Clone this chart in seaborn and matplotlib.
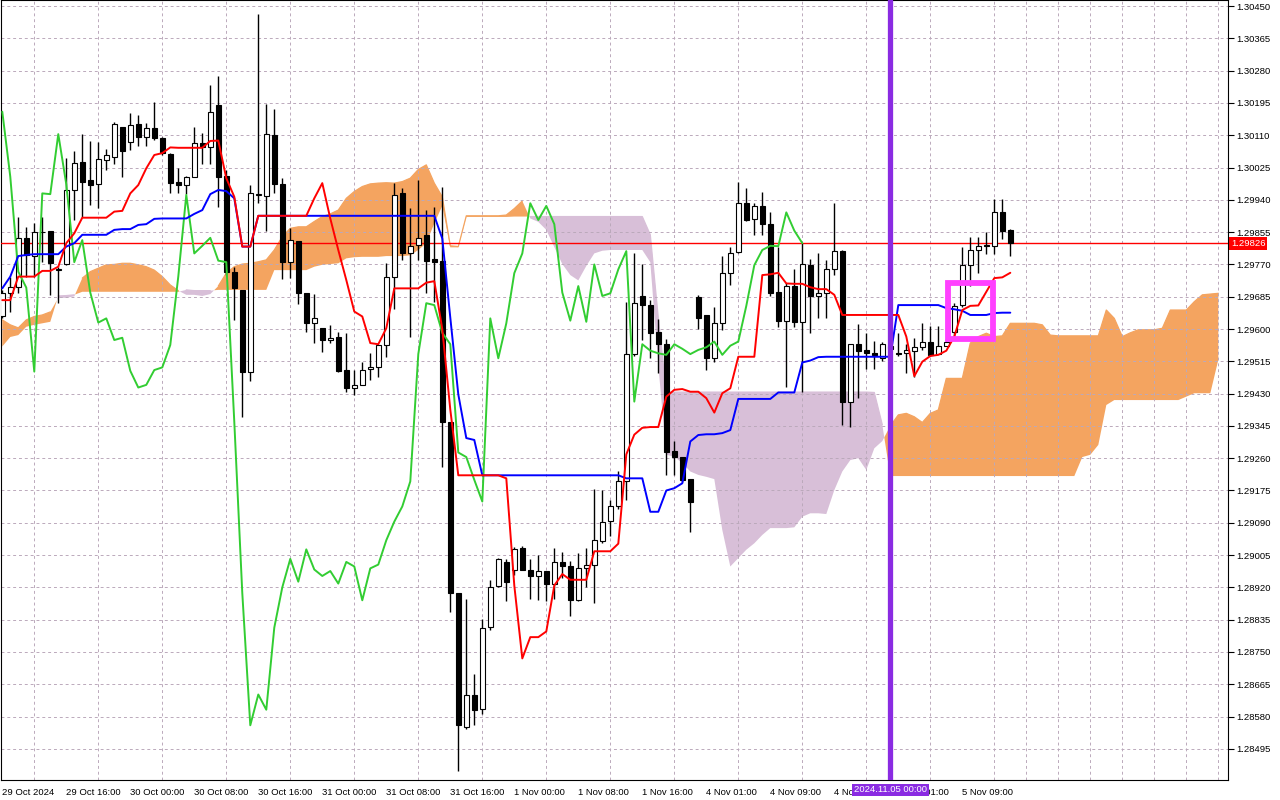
import numpy as np
import pandas as pd
import matplotlib
matplotlib.use("Agg")
import matplotlib.pyplot as plt
import matplotlib.transforms as mtransforms
from matplotlib.patches import Rectangle
import seaborn as sns

# GBPUSD H1 with Ichimoku, prices kept in points (1 point = 0.00001)
POINT = 0.00001

open_pts = [129633, 129694, 129710, 129839, 129792, 129856, 129858, 129755, 129771, 129966,
            130039, 129992, 129981, 130045, 130054, 130131, 130092, 130140, 130105, 130128,
            130102, 130060, 129986, 129979, 130001, 130089, 130080, 130190, 130004, 129751,
            129703, 129488, 129953, 129951, 130111, 129982, 129776, 129832, 129694, 129615,
            129602, 129571, 129578, 129492, 129446, 129453, 129494, 129499, 129558, 129738,
            129957, 129799, 129821, 129848, 129785, 129779, 129356, 128905, 128552, 128636,
            128599, 128816, 128923, 128987, 128965, 129023, 128967, 128950, 128963, 128930,
            128987, 128975, 128886, 128970, 128980, 129041, 129094, 129134, 129199, 129534,
            129687, 129663, 129591, 129561, 129279, 129263, 129205, 129685, 129637, 129523,
            129615, 129747, 129802, 129931, 129889, 129924, 129877, 129697, 129622, 129713,
            129619, 129768, 129688, 129696, 129757, 129805, 129409, 129561, 129545, 129538,
            129525, 129555, 129536, 129536, 129543, 129552, 129567, 129534, 129556, 129593,
            129663, 129768, 129808, 129820, 129819, 129907, 129861]
high_pts = [129703, 129738, 129896, 129869, 129878, 129896, 129858, 129764, 130049, 130069,
            130113, 130095, 130091, 130074, 130146, 130133, 130168, 130163, 130143, 130197,
            130106, 130063, 130023, 130003, 130131, 130115, 130242, 130266, 130019, 129764,
            129703, 129979, 130429, 130192, 130179, 129997, 129865, 129832, 129694, 129692,
            129602, 129611, 129593, 129589, 129492, 129514, 129538, 129558, 129773, 129985,
            129970, 129918, 129992, 129913, 129922, 129975, 129356, 128905, 128890, 128693,
            128836, 128940, 128997, 128995, 129026, 129028, 128995, 129005, 128963, 129023,
            129013, 128990, 129010, 129023, 129179, 129175, 129151, 129227, 129670, 129801,
            129771, 129676, 129626, 129573, 129304, 129264, 129205, 129690, 129637, 129659,
            129792, 129817, 129986, 129970, 129931, 129960, 129909, 129817, 129720, 129757,
            129827, 129784, 129799, 129782, 129933, 129808, 129560, 129613, 129589, 129569,
            129567, 129565, 129589, 129561, 129576, 129615, 129609, 129609, 129574, 129669,
            129817, 129842, 129842, 129856, 129942, 129942, 129863]
low_pts = [129629, 129646, 129694, 129738, 129738, 129777, 129690, 129668, 129769, 129887,
           129896, 129927, 129919, 130019, 130034, 130001, 130071, 130083, 130082, 130098,
           130058, 129959, 129957, 129955, 129999, 130034, 130034, 129922, 129742, 129624,
           129368, 129462, 129931, 129859, 129957, 129732, 129735, 129666, 129593, 129564,
           129540, 129563, 129488, 129435, 129427, 129453, 129466, 129475, 129527, 129652,
           129782, 129580, 129782, 129694, 129670, 129237, 128854, 128437, 128547, 128557,
           128587, 128809, 128920, 128884, 128953, 128965, 128890, 128886, 128884, 128890,
           128945, 128844, 128884, 128920, 128879, 129038, 129056, 129126, 129151, 129529,
           129571, 129523, 129484, 129216, 129216, 129198, 129067, 129599, 129492, 129512,
           129598, 129716, 129799, 129885, 129848, 129848, 129687, 129606, 129448, 129605,
           129433, 129589, 129628, 129628, 129742, 129348, 129342, 129418, 129494, 129494,
           129515, 129535, 129530, 129485, 129475, 129545, 129529, 129534, 129554, 129580,
           129659, 129712, 129748, 129798, 129798, 129836, 129793]
close_pts = [129694, 129710, 129839, 129795, 129856, 129855, 129773, 129757, 129966, 130036,
             129988, 129979, 130047, 130058, 130139, 130069, 130137, 130106, 130128, 130102,
             130063, 129984, 129979, 130001, 130089, 130080, 130172, 130001, 129751, 129709,
             129488, 129957, 129955, 130113, 129981, 129776, 129834, 129696, 129617, 129628,
             129571, 129577, 129490, 129446, 129453, 129492, 129499, 129558, 129738, 129953,
             129799, 129819, 129840, 129780, 129776, 129356, 128905, 128557, 128638, 128598,
             128814, 128920, 128995, 128935, 129020, 128967, 128950, 128963, 128930, 128987,
             128975, 128886, 128970, 128980, 129044, 129093, 129133, 129199, 129534, 129668,
             129663, 129590, 129560, 129275, 129263, 129203, 129146, 129628, 129523, 129615,
             129747, 129799, 129931, 129887, 129924, 129876, 129696, 129622, 129713, 129619,
             129770, 129687, 129694, 129757, 129805, 129409, 129560, 129543, 129536, 129532,
             129560, 129548, 129534, 129545, 129552, 129567, 129532, 129556, 129567, 129661,
             129768, 129808, 129819, 129818, 129907, 129859, 129826]

tenkan_pts = [129676, 129676, 129738, 129738, 129738, 129753, 129753, 129764, 129826, 129852,
              129893, 129893, 129893, 129893, 129909, 129911, 129957, 129979, 130023, 130058,
              130063, 130078, 130077, 130077, 130077, 130077, 130095, 130096, 129997, 129948,
              129817, 129817, 129898, 129898, 129898, 129898, 129898, 129898, 129898, 129944,
              129984, 129891, 129808, 129729, 129646, 129633, 129563, 129560, 129602, 129707,
              129707, 129707, 129707, 129722, 129726, 129600, 129388, 129215, 129215, 129215,
              129215, 129215, 129215, 129207, 128925, 128733, 128789, 128789, 128804, 128925,
              128955, 128940, 128940, 128940, 129015, 129015, 129015, 129035, 129270, 129322,
              129340, 129342, 129342, 129422, 129440, 129442, 129435, 129435, 129418, 129380,
              129431, 129444, 129527, 129527, 129527, 129742, 129744, 129748, 129720, 129719,
              129719, 129710, 129705, 129705, 129690, 129637, 129637, 129637, 129637, 129637,
              129637, 129637, 129637, 129580, 129476, 129514, 129529, 129532, 129543, 129580,
              129650, 129661, 129662, 129698, 129734, 129736, 129748]
kijun_pts = [129707, 129738, 129792, 129795, 129797, 129797, 129797, 129797, 129817, 129826,
             129848, 129848, 129848, 129848, 129861, 129863, 129863, 129874, 129876, 129890,
             129891, 129891, 129891, 129891, 129903, 129913, 129955, 129966, 129963, 129944,
             129817, 129817, 129898, 129898, 129898, 129898, 129898, 129898, 129898, 129898,
             129898, 129898, 129898, 129898, 129898, 129898, 129898, 129898, 129898, 129898,
             129898, 129898, 129898, 129898, 129898, 129838, 129630, 129428, 129313, 129308,
             129215, 129215, 129215, 129215, 129215, 129215, 129215, 129215, 129215, 129215,
             129215, 129215, 129215, 129215, 129215, 129215, 129215, 129215, 129207, 129207,
             129207, 129119, 129119, 129175, 129181, 129194, 129304, 129321, 129323, 129323,
             129326, 129334, 129416, 129416, 129416, 129416, 129416, 129433, 129433, 129433,
             129512, 129517, 129526, 129527, 129527, 129527, 129527, 129527, 129527, 129527,
             129527, 129527, 129663, 129663, 129663, 129663, 129663, 129663, 129655, 129652,
             129648, 129637, 129637, 129637, 129642, 129643, 129643]

# Senkou spans, already shifted 26 bars forward (153 bars)
span_a_pts = [129624, 129611, 129603, 129624, 129633, 129637, 129645, 129682, 129682, 129686,
              129734, 129751, 129760, 129769, 129770, 129773, 129773, 129769, 129764, 129755,
              129738, 129716, 129701, 129690, 129690, 129687, 129692, 129713, 129747, 129764,
              129771, 129773, 129777, 129782, 129808, 129843, 129865, 129869, 129869, 129883,
              129896, 129903, 129913, 129944, 129962, 129975, 129982, 129984, 129985, 129984,
              129988, 129997, 130020, 130032, 129984, 129948, 129819, 129817, 129898, 129898,
              129898, 129898, 129898, 129900, 129917, 129937, 129891, 129882, 129861, 129816,
              129771, 129742, 129728, 129766, 129799, 129806, 129808, 129808, 129808, 129808,
              129808, 129776, 129505, 129269, 129264, 129247, 129225, 129216, 129211, 129205,
              129071, 128975, 128997, 129019, 129036, 129058, 129076, 129076, 129076, 129078,
              129106, 129115, 129115, 129113, 129176, 129225, 129255, 129260, 129229, 129286,
              129305, 129345, 129374, 129378, 129369, 129354, 129378, 129387, 129470, 129470,
              129470, 129563, 129580, 129589, 129580, 129582, 129615, 129615, 129615, 129615,
              129611, 129584, 129582, 129582, 129582, 129582, 129582, 129582, 129650, 129628,
              129580, 129590, 129598, 129598, 129598, 129602, 129650, 129650, 129650, 129672,
              129690, 129692, 129694]
span_b_pts = [129554, 129579, 129584, 129606, 129611, 129615, 129619, 129687, 129688, 129690,
              129698, 129698, 129698, 129698, 129698, 129698, 129698, 129698, 129698, 129698,
              129698, 129698, 129698, 129703, 129701, 129701, 129701, 129703, 129703, 129703,
              129703, 129703, 129703, 129703, 129755, 129755, 129755, 129755, 129755, 129764,
              129769, 129771, 129773, 129786, 129789, 129790, 129790, 129790, 129792, 129792,
              129792, 129794, 129808, 129826, 129878, 129924, 129815, 129815, 129895, 129895,
              129895, 129895, 129895, 129895, 129896, 129896, 129896, 129896, 129896, 129896,
              129896, 129896, 129896, 129896, 129896, 129896, 129896, 129896, 129896, 129896,
              129896, 129848, 129629, 129434, 129434, 129434, 129434, 129434, 129434, 129434,
              129434, 129434, 129434, 129434, 129434, 129434, 129434, 129434, 129434, 129434,
              129434, 129434, 129434, 129434, 129434, 129434, 129434, 129434, 129434, 129433,
              129348, 129213, 129213, 129213, 129213, 129213, 129213, 129213, 129213, 129213,
              129213, 129213, 129213, 129213, 129213, 129213, 129213, 129213, 129213, 129213,
              129213, 129213, 129213, 129213, 129213, 129263, 129269, 129295, 129400, 129413,
              129413, 129413, 129413, 129413, 129413, 129413, 129413, 129413, 129422, 129431,
              129431, 129431, 129519]

x_labels = ["29 Oct 2024", "29 Oct 16:00", "30 Oct 00:00", "30 Oct 08:00", "30 Oct 16:00",
            "31 Oct 00:00", "31 Oct 08:00", "31 Oct 16:00", "1 Nov 00:00", "1 Nov 08:00",
            "1 Nov 16:00", "4 Nov 01:00", "4 Nov 09:00", "4 Nov 17:00", "5 Nov 01:00",
            "5 Nov 09:00"]
y_tick_pts = list(range(128495, 130451, 85))

marker_bar = 111
marker_label = "2024.11.05 00:00"
box_bars = (118.2, 123.8)
box_pts = (129574, 129721)

# frames
df = pd.DataFrame({
    "bar": np.arange(len(close_pts)),
    "open": np.array(open_pts) * POINT,
    "high": np.array(high_pts) * POINT,
    "low": np.array(low_pts) * POINT,
    "close": np.array(close_pts) * POINT,
    "tenkan": np.array(tenkan_pts) * POINT,
    "kijun": np.array(kijun_pts) * POINT,
})
df["chikou"] = df["close"].shift(-26)
cloud = pd.DataFrame({
    "bar": np.arange(len(span_a_pts)),
    "a": np.array(span_a_pts) * POINT,
    "b": np.array(span_b_pts) * POINT,
})
bull = cloud["a"] >= cloud["b"]
# edge lines only show where the kumo is thin, keep them on their own colour side
cloud["a_edge"] = cloud["a"].where(bull)
cloud["b_edge"] = cloud["b"].where(~bull)

sns.set_style("white")
plt.rcParams["font.family"] = ["Liberation Sans", "DejaVu Sans"]

fig = plt.figure(figsize=(12.8, 8), dpi=100)
ax = fig.add_axes([1 / 1280, 20 / 800, 1227 / 1280, 780 / 800])

# kumo
ax.plot(cloud["bar"], cloud["b_edge"], color="#d8bfd8", lw=0.9, zorder=0.9)
ax.plot(cloud["bar"], cloud["a_edge"], color="#f4a460", lw=0.9, zorder=0.95)
ax.fill_between(cloud["bar"], cloud["a"], cloud["b"], where=bull,
                interpolate=True, color="#f4a460", lw=0, zorder=1)
ax.fill_between(cloud["bar"], cloud["a"], cloud["b"], where=~bull,
                interpolate=True, color="#d8bfd8", lw=0, zorder=1)

# current price line
ax.axhline(df["close"].iloc[-1], color="#ff0000", lw=1.0, zorder=2.8)

# candles
up = df["close"] >= df["open"]
ax.vlines(df["bar"], df["low"], df["high"], color="black", lw=1, zorder=3)
body_low = np.minimum(df["open"], df["close"])
body_h = np.maximum((df["close"] - df["open"]).abs(), 0.3 * POINT)
ax.bar(df["bar"], body_h, bottom=body_low, width=0.68,
       color=np.where(up, "white", "black"), edgecolor="black", lw=0.8, zorder=3.5)

# ichimoku lines
sns.lineplot(data=df, x="bar", y="chikou", color="#32cd32", lw=1.4, ax=ax, zorder=4)
sns.lineplot(data=df, x="bar", y="kijun", color="#0000ff", lw=1.4, ax=ax, zorder=4.1)
sns.lineplot(data=df, x="bar", y="tenkan", color="#ff0000", lw=1.4, ax=ax, zorder=4.2)

# date marker and highlight box
ax.axvline(marker_bar, color="#8a2be2", lw=3.8, zorder=5)
ax.add_patch(Rectangle((box_bars[0], box_pts[0] * POINT), box_bars[1] - box_bars[0],
                       (box_pts[1] - box_pts[0]) * POINT, fill=False,
                       ec="#ff40ff", lw=4.2, zorder=6))

# axes
ax.set_xlim(-0.16, 153.21)
ax.set_ylim(1.28413, 1.30466)
ax.set_xlabel("")
ax.set_ylabel("")
ax.yaxis.tick_right()
ax.set_yticks(np.array(y_tick_pts) * POINT)
ax.set_yticklabels([f"{t * POINT:.5f}" for t in y_tick_pts])
ax.set_xticks(range(0, 8 * len(x_labels), 8))
ax.set_xticklabels(x_labels, ha="left")
ax.set_xticks(range(0, 153, 4), minor=True)
ax.tick_params(axis="both", which="major", direction="out", length=4, width=0.8,
               labelsize=6.8, pad=2, colors="black")
ax.tick_params(axis="x", which="minor", length=0)
ax.grid(True, axis="y", which="major", color="#bba9bb", ls=(0, (3, 3)), lw=0.7)
ax.grid(True, axis="x", which="minor", color="#bba9bb", ls=(0, (3, 3)), lw=0.7)
ax.set_axisbelow("line")
for s in ax.spines.values():
    s.set_color("black")
    s.set_linewidth(0.8)

# tags on the axes (the date tag covers the two labels under it, as in MT5)
price_tr = mtransforms.offset_copy(
    mtransforms.blended_transform_factory(ax.transAxes, ax.transData), fig=fig, x=3, y=0, units="dots")
ax.text(1.0, df["close"].iloc[-1], f"{close_pts[-1] * POINT:.5f}", transform=price_tr,
        ha="left", va="center", color="white", fontsize=6.8, clip_on=False, zorder=10,
        bbox=dict(boxstyle="square,pad=0.2", fc="red", ec="none"))
date_tr = mtransforms.blended_transform_factory(ax.transData, ax.transAxes)
ax.text(marker_bar, -0.0128, marker_label, transform=date_tr, ha="center", va="center",
        color="white", fontsize=6.8, clip_on=False, zorder=10,
        bbox=dict(boxstyle="square,pad=0.2", fc="#8a2be2", ec="none"))

fig.savefig("out.png", dpi=100)
